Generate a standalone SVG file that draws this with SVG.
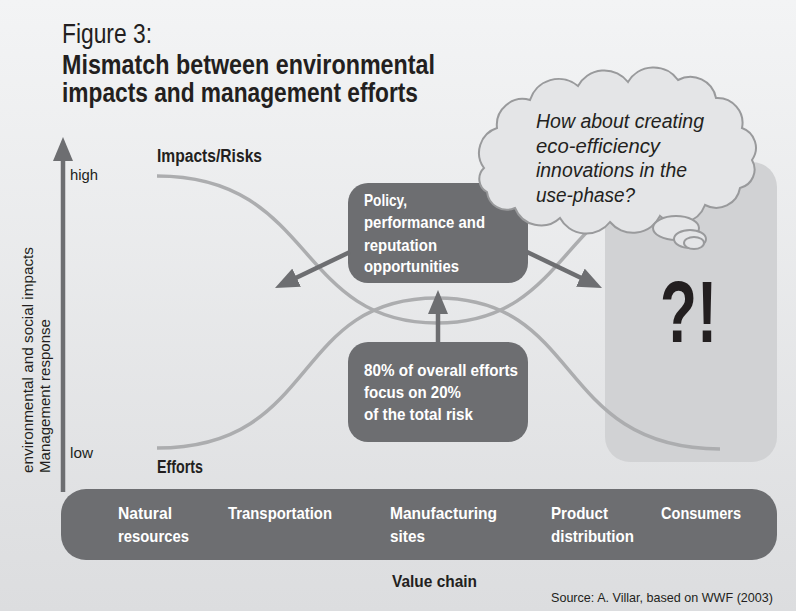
<svg xmlns="http://www.w3.org/2000/svg" width="796" height="611" viewBox="0 0 796 611">
<defs>
<linearGradient id="bg" x1="0" y1="0" x2="0" y2="1">
<stop offset="0" stop-color="#f3f4f5"/>
<stop offset="1" stop-color="#dcdddf"/>
</linearGradient>
<marker id="ah" viewBox="0 0 24 20" refX="12" refY="10" markerWidth="24" markerHeight="20" markerUnits="userSpaceOnUse" orient="auto">
<path d="M0,0 L24,10 L0,20 Z" fill="#6d6e71"/>
</marker>
<style>
.t{font-family:"Liberation Sans Narrow","Liberation Sans",Arial,sans-serif;fill:#231f20}
.b{font-weight:bold}
.w{fill:#ffffff;font-weight:bold;font-size:17px}
.box{fill:#6d6e71}
.curve{fill:none;stroke:#acadaf;stroke-width:3.5}
.arr{fill:none;stroke:#6d6e71;stroke-width:4.5}
.cl{fill:#e4e5e7;stroke:#999a9c;stroke-width:2}
</style>
</defs>
<rect width="796" height="611" fill="url(#bg)"/>

<text class="t" x="62" y="43" font-size="28" textLength="90" lengthAdjust="spacingAndGlyphs">Figure 3:</text>
<text class="t b" x="62" y="74" font-size="28" textLength="373" lengthAdjust="spacingAndGlyphs">Mismatch between environmental</text>
<text class="t b" x="62" y="102" font-size="28" textLength="356" lengthAdjust="spacingAndGlyphs">impacts and management efforts</text>

<g id="usephase-box">
<rect x="605" y="162" width="172" height="300" rx="25" fill="#d1d2d4"/>
<text class="t b" x="660" y="342" font-size="88" textLength="57" lengthAdjust="spacingAndGlyphs">?!</text>
</g>

<g id="curves">
<path class="curve" d="M157,176 C315,176 295,323 437,323 C579,323 559,176 717,176"/>
<path class="curve" d="M157,448 C320,448 290,298 437,298 C584,298 554,448 720,449"/>
</g>

<g id="axis">
<line class="arr" x1="63" y1="492" x2="63" y2="149" marker-end="url(#ah)"/>
<text class="t" x="70" y="180" font-size="15" fill="#333" textLength="28" lengthAdjust="spacingAndGlyphs">high</text>
<text class="t" x="70" y="458" font-size="15" textLength="23" lengthAdjust="spacingAndGlyphs">low</text>
<text class="t" transform="translate(33,473) rotate(-90)" font-size="15" font-family="Liberation Sans" textLength="226" lengthAdjust="spacingAndGlyphs">environmental and social impacts</text>
<text class="t" transform="translate(50,473) rotate(-90)" font-size="15" textLength="154" lengthAdjust="spacingAndGlyphs">Management response</text>
</g>

<text class="t b" x="157" y="162" font-size="18" textLength="105" lengthAdjust="spacingAndGlyphs">Impacts/Risks</text>
<text class="t b" x="157" y="473" font-size="18" textLength="46" lengthAdjust="spacingAndGlyphs">Efforts</text>

<g id="policy">
<rect class="box" x="348" y="183" width="180" height="100" rx="20"/>
<text class="t w" x="364" y="206" textLength="43" lengthAdjust="spacingAndGlyphs">Policy,</text>
<text class="t w" x="364" y="228" textLength="121" lengthAdjust="spacingAndGlyphs">performance and</text>
<text class="t w" x="364" y="251" textLength="73" lengthAdjust="spacingAndGlyphs">reputation</text>
<text class="t w" x="364" y="272" textLength="95" lengthAdjust="spacingAndGlyphs">opportunities</text>
</g>

<g id="efforts-box">
<rect class="box" x="348" y="342" width="180" height="100" rx="20"/>
<text class="t w" x="364" y="376" textLength="154" lengthAdjust="spacingAndGlyphs">80% of overall efforts</text>
<text class="t w" x="364" y="398" textLength="97" lengthAdjust="spacingAndGlyphs">focus on 20%</text>
<text class="t w" x="364" y="420" textLength="109" lengthAdjust="spacingAndGlyphs">of the total risk</text>
</g>

<g id="connectors">
<line class="arr" x1="438" y1="342" x2="438" y2="302" marker-end="url(#ah)"/>
<line class="arr" x1="350" y1="252" x2="285.8" y2="282.8" marker-end="url(#ah)"/>
<line class="arr" x1="527" y1="252" x2="591.2" y2="282.8" marker-end="url(#ah)"/>
</g>

<g id="thought">
<path class="cl" d="M484,168 A26,26 0 0 1 497,128 A26,26 0 0 1 530,100 A30,30 0 0 1 578,86 A30,30 0 0 1 628,82 A30,30 0 0 1 678,80 A26,26 0 0 1 716,98 A25,25 0 0 1 742,128 A21,21 0 0 1 752,160 A19,19 0 0 1 740,188 A24,24 0 0 1 705,205 A28,28 0 0 1 660,216 A30,30 0 0 1 610,222 A30,30 0 0 1 560,218 A28,28 0 0 1 515,208 A20,20 0 0 1 487,192 A15,15 0 0 1 484,168 Z"/>
<ellipse class="cl" cx="676" cy="228" rx="23" ry="12"/>
<ellipse class="cl" cx="690" cy="239" rx="16" ry="9"/>
<ellipse class="cl" cx="694" cy="243" rx="10" ry="6"/>
<text class="t" x="536" y="128" font-size="20" font-style="italic" textLength="168" lengthAdjust="spacingAndGlyphs">How about creating</text>
<text class="t" x="536" y="153" font-size="20" font-style="italic" textLength="124" lengthAdjust="spacingAndGlyphs">eco-efficiency</text>
<text class="t" x="536" y="177" font-size="20" font-style="italic" textLength="151" lengthAdjust="spacingAndGlyphs">innovations in the</text>
<text class="t" x="536" y="202" font-size="20" font-style="italic" textLength="99" lengthAdjust="spacingAndGlyphs">use-phase?</text>
</g>

<g id="value-chain">
<rect class="box" x="61" y="489" width="716" height="71" rx="25"/>
<text class="t w" x="118" y="519" textLength="54" lengthAdjust="spacingAndGlyphs">Natural</text>
<text class="t w" x="118" y="542" textLength="71" lengthAdjust="spacingAndGlyphs">resources</text>
<text class="t w" x="228" y="519" textLength="104" lengthAdjust="spacingAndGlyphs">Transportation</text>
<text class="t w" x="390" y="519" textLength="107" lengthAdjust="spacingAndGlyphs">Manufacturing</text>
<text class="t w" x="390" y="542" textLength="35" lengthAdjust="spacingAndGlyphs">sites</text>
<text class="t w" x="551" y="519" textLength="57" lengthAdjust="spacingAndGlyphs">Product</text>
<text class="t w" x="551" y="542" textLength="83" lengthAdjust="spacingAndGlyphs">distribution</text>
<text class="t w" x="661" y="519" textLength="80" lengthAdjust="spacingAndGlyphs">Consumers</text>
</g>

<text class="t b" x="392" y="587" font-size="17" textLength="85" lengthAdjust="spacingAndGlyphs">Value chain</text>
<text class="t" x="551" y="602" font-size="13" fill="#333" textLength="222" lengthAdjust="spacingAndGlyphs">Source: A. Villar, based on WWF (2003)</text>
</svg>
